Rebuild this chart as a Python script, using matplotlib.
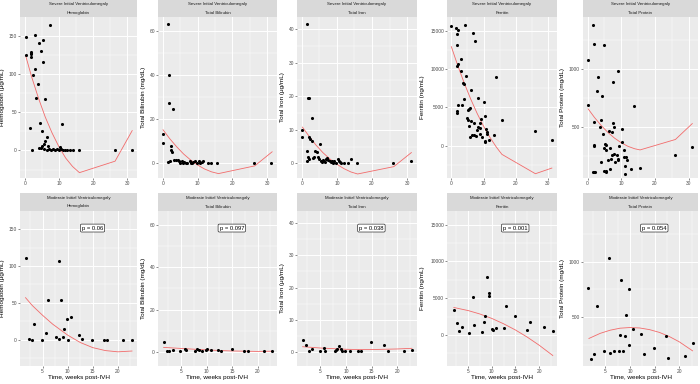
import matplotlib
matplotlib.use("Agg")
import matplotlib.pyplot as plt

plt.rcParams['font.family'] = ['Liberation Sans', 'DejaVu Sans']

# ---- data: severe initial ventriculomegaly (top row) ----
sev_hgb_t = [7.3, 0.3, 3.1, 5.5, 4.1, 4.8, 1.9, 2.0, 1.9, 1.8, 0.3, 5.5, 3.0, 2.3, 3.9, 3.3, 5.9,
             1.7, 4.6, 5.1, 11.0, 6.4, 6.0, 5.6, 5.1, 2.2, 4.1, 4.8, 6.8, 5.8, 6.5, 7.2, 7.7, 8.4,
             8.9, 9.4, 9.9, 10.4, 10.6, 11.2, 11.7, 12.3, 13.3, 14.1, 15.8, 26.4, 31.4]
sev_hgb = [164, 149, 151, 144, 141, 130, 129, 128, 126, 122, 125, 116, 107, 99, 87, 68, 67,
           30, 36, 26, 34, 17, 13, 9, 6.5, 1, 3.5, 3.5, 5.6, 2, 1, 2, 0.5, 2.5,
           1, 2.5, 0.5, 5, 2, 0.5, 0.5, 0.5, 0.5, 0.5, 0.5, 0, 0]

sev_bili_t = [1.6, 1.8, 1.9, 2.9, 0.1, 0.0, 2.3, 2.3, 2.8, 1.6, 2.0, 3.1, 3.8, 4.4, 4.8, 5.0,
              5.4, 5.8, 6.2, 6.6, 6.9, 7.7, 8.1, 8.5, 8.8, 9.2, 9.8, 10.4, 10.7, 11.3, 11.7,
              13.1, 14.0, 15.7, 26.1, 31.1]
sev_bili = [63.2, 40, 27.3, 24.5, 13.2, 9.4, 8, 6, 4.9, 0.5, 0.9, 1.5, 1.5, 1.5, 0.8, 0.3,
            0.8, 0.3, 0.6, 0.3, 0.0, 0.9, 0.3, 0.0, 0.6, 0.9, 0.0, 0.9, 0.0, 0.6, 0.9,
            0.0, 0.0, 0.0, 0.0, 0.3]

sev_iron_t = [1.6, 1.9, 2.1, 2.8, 0.0, 0.2, 2.2, 2.4, 2.8, 5.2, 1.6, 1.9, 2.0, 1.6, 3.9, 4.3,
              3.1, 3.5, 4.7, 5.0, 5.4, 5.7, 6.0, 6.4, 6.6, 6.9, 7.1, 7.5, 7.9, 8.2, 8.5, 8.8,
              9.3, 9.8, 10.2, 10.5, 10.9, 11.3, 11.9, 13.1, 14.0, 15.7, 26.1, 31.1]
sev_iron = [41.5, 19.6, 19.6, 13.5, 7.9, 9.9, 8.0, 7.4, 6.7, 5.8, 3.6, 1.9, 1.4, 0.6, 3.6, 3.3,
            1.6, 2.0, 1.8, 1.2, 0.8, 0.4, 1.0, 0.7, 0.4, 1.2, 1.7, 1.0, 0.8, 0.4, 0.6, 0.2,
            0.6, 0.2, 1.2, 0.8, 0.4, 0.2, 0.0, 0.1, 1.4, 0.2, 0.0, 0.6]

sev_ferr_t = [0.0, 4.3, 1.5, 2.1, 1.7, 6.7, 1.7, 7.2, 2.9, 2.1, 1.7, 3.0, 4.6, 14.0, 3.7, 3.9,
              6.2, 3.8, 8.2, 10.2, 2.0, 3.3, 5.9, 5.5, 5.2, 1.7, 1.7, 10.5, 9.2, 4.9, 5.2,
              15.7, 6.1, 7.1, 9.0, 5.6, 8.4, 9.0, 8.0, 10.9, 11.1, 8.8, 7.1, 6.5, 7.7, 11.2,
              5.8, 9.4, 13.2, 11.7, 10.5, 10.3, 26.1, 31.2]
sev_ferr = [15700, 15830, 15400, 15090, 14560, 14690, 13170, 13690, 11290, 10680, 10420, 9810,
            9160, 8980, 8240, 8110, 7280, 6150, 6280, 5670, 5280, 5280, 4970, 4840, 4670, 4540,
            4230, 3920, 3530, 3620, 3360, 3310, 3180, 2920, 3010, 2570, 2440, 2350, 2050, 2140,
            1790, 1570, 1400, 1400, 1310, 1530, 1090, 1090, 1350, 740, 520, 650, 1870, 700]

sev_prot_t = [1.6, 1.8, 4.8, 0.0, 9.1, 3.2, 7.7, 2.9, 4.4, 0.2, 13.9, 3.9, 1.9, 7.5, 3.8, 8.0,
              10.3, 4.6, 6.4, 7.3, 10.2, 5.3, 5.6, 2.0, 1.9, 9.3, 6.7, 5.0, 10.7, 5.4, 7.8, 7.2,
              10.9, 11.3, 8.7, 8.9, 7.0, 6.0, 11.7, 8.1, 9.1, 3.9, 11.2, 26.0, 31.1, 15.6, 13.0,
              6.6, 5.0, 5.4, 5.6, 1.6, 1.9, 2.2, 11.1]
sev_prot = [1385, 1218, 1210, 1078, 989, 931, 888, 810, 773, 690, 681, 560, 543, 534, 503, 503,
            489, 440, 468, 460, 371, 353, 345, 345, 336, 342, 319, 319, 302, 302, 273, 259,
            247, 247, 261, 227, 224, 218, 215, 204, 215, 201, 170, 259, 328, 152, 141,
            144, 126, 121, 115, 112, 112, 118, 100]

# fitted lines
sev_hgb_fit_t = [0.3, 2, 4, 6, 8, 10, 12, 14, 16, 26.4, 31.4]
sev_hgb_fit = [124, 97, 69, 44, 23, 5, -10, -21, -29, -14, 26]
sev_bili_fit_t = [0.1, 2, 4, 6, 8, 10, 12, 14, 16, 26.4, 31.4]
sev_bili_fit = [15.2, 11.2, 7.5, 4.2, 1.5, -0.8, -2.6, -3.9, -4.7, -1.2, 5.2]
sev_iron_fit_t = [0.2, 2, 4, 6, 8, 10, 12, 14, 15.9, 26.2, 31.2]
sev_iron_fit = [10.8, 8.2, 5.5, 3.2, 1.3, -0.3, -1.6, -2.6, -3.2, -1.0, 3.2]
sev_ferr_fit_t = [0, 2, 4, 6, 8, 10, 12, 14, 15.7, 26.1, 31.2]
sev_ferr_fit = [12950, 10470, 8190, 6110, 4230, 2560, 1080, -200, -1130, -3660, -2920]
sev_prot_fit_t = [0.2, 2, 4, 6, 8, 10, 12, 14, 15.6, 26.1, 31.1]
sev_prot_fit = [658, 587, 517, 457, 407, 367, 336, 315, 305, 395, 532]

# ---- data: moderate initial ventriculomegaly (bottom row) ----
mod_hgb_t = [1.6, 2.3, 2.8, 3.3, 4.8, 5.6, 6.0, 7.7, 8.2, 8.2, 8.6, 9.1, 9.2, 9.8, 10.0, 10.7,
             12.2, 12.8, 14.9, 17.3, 17.9, 21.1, 22.8]
mod_hgb = [111.6, 0.9, 0, 21, 0, 8.9, 54, 3.6, 106.7, 0.9, 53.6, 3.1, 14.3, 27.7, 0, 31.3,
           6.7, 0.4, 0, 0, 0, 0, 0]

mod_bili_t = [1.6, 2.3, 2.7, 3.4, 4.9, 5.7, 6.0, 7.7, 8.2, 8.6, 9.2, 9.9, 10.1, 10.8, 12.3,
              12.9, 14.9, 17.4, 18.1, 21.2, 22.9]
mod_bili = [4.7, 0.5, 0.5, 0.9, 0.3, 1.4, 0.9, 0.2, 1.3, 0.9, 0.6, 1.1, 1.4, 0.9, 0.8,
            0.2, 1.3, 0.2, 0.2, 0.3, 0.3]

mod_iron_t = [1.6, 2.3, 2.8, 3.4, 4.9, 5.7, 6.0, 7.8, 8.1, 8.3, 8.7, 9.1, 9.3, 9.9, 10.8,
              12.3, 12.9, 14.9, 17.4, 18.1, 21.2, 22.8]
mod_iron = [3.7, 2.0, 0.2, 1.0, 0.4, 1.1, 0.2, 0.4, 0.5, 0.8, 1.8, 1.0, 0.4, 0.3, 0.4,
            0.3, 0.3, 3.2, 2.2, 0.2, 0.2, 0.6]

mod_ferr_t = [1.95, 2.7, 3.1, 3.6, 5.1, 5.95, 6.2, 7.85, 8.3, 8.5, 8.9, 9.3, 9.5, 10.0, 10.2,
              10.9, 12.5, 13.0, 15.0, 17.4, 18.0, 21.1, 22.9]
mod_ferr = [3420, 1670, 590, 1040, 320, 5180, 1350, 410, 1760, 2610, 7840, 5270, 5720, 770, 720,
            990, 900, 3960, 2610, 720, 1800, 1130, 540]

mod_prot_t = [1.6, 3.4, 5.7, 8.2, 9.9, 9.2, 8.0, 9.1, 10.6, 12.2, 17.3, 9.8, 14.9, 12.8, 6.7,
              5.9, 4.7, 2.8, 2.2, 8.7, 7.7, 17.8, 21.1, 22.7]
mod_prot = [759, 598, 1033, 833, 750, 521, 339, 330, 396, 348, 330, 253, 220, 173, 199,
            182, 199, 173, 125, 202, 202, 131, 149, 265]

mod_hgb_fit_t = [1.6, 3, 5, 7, 10, 12.5, 15, 17.5, 20, 22.8]
mod_hgb_fit = [57, 46, 33, 21, 6, -4, -11, -15, -16.7, -15.6]
mod_bili_fit_t = [1.6, 5, 10, 15, 20, 22.9]
mod_bili_fit = [2.1, 1.6, 0.9, 0.4, 0.2, 0.3]
mod_iron_fit_t = [1.6, 5, 10, 13, 16, 20, 22.8]
mod_iron_fit = [1.6, 1.2, 0.8, 0.7, 0.75, 0.9, 1.1]
mod_ferr_fit_t = [1.95, 5, 7.5, 10, 12.5, 15, 17.5, 20, 22.9]
mod_ferr_fit = [3740, 3320, 2850, 2250, 1520, 680, -290, -1380, -2790]
mod_prot_fit_t = [1.7, 4, 6, 8, 10, 12, 14, 16, 18, 20, 22.7]
mod_prot_fit = [310, 356, 384, 402, 408, 404, 389, 364, 327, 280, 199]

markers = ["Hemoglobin", "Total Bilirubin", "Total Iron", "Ferritin", "Total Protein"]
y_titles = ["Hemoglobin (\u03bcg/mL)", "Total Bilirubin (mg/dL)", "Total Iron (\u03bcg/mL)",
            "Ferritin (ng/mL)", "Total Protein (mg/dL)"]
p_values = ["p = 0.06", "p = 0.097", "p = 0.038", "p = 0.001", "p = 0.054"]

severe = [(sev_hgb_t, sev_hgb, sev_hgb_fit_t, sev_hgb_fit),
          (sev_bili_t, sev_bili, sev_bili_fit_t, sev_bili_fit),
          (sev_iron_t, sev_iron, sev_iron_fit_t, sev_iron_fit),
          (sev_ferr_t, sev_ferr, sev_ferr_fit_t, sev_ferr_fit),
          (sev_prot_t, sev_prot, sev_prot_fit_t, sev_prot_fit)]
moderate = [(mod_hgb_t, mod_hgb, mod_hgb_fit_t, mod_hgb_fit),
            (mod_bili_t, mod_bili, mod_bili_fit_t, mod_bili_fit),
            (mod_iron_t, mod_iron, mod_iron_fit_t, mod_iron_fit),
            (mod_ferr_t, mod_ferr, mod_ferr_fit_t, mod_ferr_fit),
            (mod_prot_t, mod_prot, mod_prot_fit_t, mod_prot_fit)]

# ---- layout (pixels) ----
W, H = 700, 384
cols_px = [(20, 137), (158, 277), (297, 417), (447, 557), (583, 698)]
ylab_px = [5, 145.7, 285, 425, 565]
ylims = [(-36, 175), (-6.7, 66.6), (-4.4, 43.8), (-4220, 16870), (63, 1453)]
yticks = [[0, 50, 100, 150], [0, 20, 40, 60], [0, 10, 20, 30, 40], [0, 5000, 10000, 15000], [500, 1000]]
yminor = [[-25, 25, 75, 125], [10, 30, 50], [5, 15, 25, 35], [-2500, 2500, 7500, 12500], [250, 750, 1250]]
rows = [
    dict(strip=(0, 16.7), panel=(16.7, 178), xlim=(-1.35, 32.8), xt=[0, 10, 20, 30],
         xminor=[5, 15, 25], title="Severe Initial Ventriculomegaly", data=severe),
    dict(strip=(193, 211), panel=(211, 366), xlim=(0.5, 23.8), xt=[5, 10, 15, 20],
         xminor=[2.5, 7.5, 12.5, 17.5, 22.5], title="Moderate Initial Ventriculomegaly", data=moderate),
]


def rect(l, t, r, b):
    return [l / W, 1 - b / H, (r - l) / W, (b - t) / H]


fig = plt.figure(figsize=(7, 3.84), dpi=100)

for ri, row in enumerate(rows):
    for ci, (l, r) in enumerate(cols_px):
        pt, pb = row["panel"]
        ax = fig.add_axes(rect(l, pt, r, pb))
        ax.set_facecolor("#EBEBEB")
        for s in ax.spines.values():
            s.set_visible(False)
        ax.set_xlim(*row["xlim"])
        ax.set_ylim(*ylims[ci])
        ax.set_xticks(row["xt"])
        ax.set_yticks(yticks[ci])
        ax.set_xticks(row["xminor"], minor=True)
        ax.set_yticks(yminor[ci], minor=True)
        ax.grid(which="major", color="white", lw=0.7)
        ax.grid(which="minor", color="white", lw=0.35)
        ax.set_axisbelow(True)
        ax.tick_params(which="major", length=1.2, width=0.4, color="#333333", pad=1,
                       labelsize=3.5, labelcolor="#4D4D4D")
        ax.tick_params(which="minor", length=0)

        t, y, ft, fy = row["data"][ci]
        ax.plot(ft, fy, color="#F26B6B", lw=0.6, zorder=2)
        ax.scatter(t, y, s=5, color="black", linewidths=0, zorder=3)

        ax.set_ylabel(y_titles[ci], fontsize=4.6, labelpad=0)
        ax.yaxis.set_label_coords((ylab_px[ci] - l) / (r - l), 0.5)
        if ri == 1:
            ax.set_xlabel("Time, weeks post-IVH", fontsize=4.6, labelpad=0.5)
            x0, x1 = row["xlim"]
            y0, y1 = ylims[ci]
            ax.text(x0 + 0.62 * (x1 - x0), y0 + 0.89 * (y1 - y0), p_values[ci],
                    fontsize=4.2, ha="center", va="center", zorder=4,
                    bbox=dict(boxstyle="round,pad=0.25,rounding_size=0.2", fc="white",
                              ec="black", lw=0.4))

        # two stacked strips
        st, sb = row["strip"]
        mid = (st + sb) / 2
        for (a, b_), label in [((st, mid), row["title"]), ((mid, sb), markers[ci])]:
            sax = fig.add_axes(rect(l, a, r, b_))
            sax.set_facecolor("#D9D9D9")
            sax.set_xticks([])
            sax.set_yticks([])
            for s in sax.spines.values():
                s.set_visible(False)
            sax.text(0.5, 0.5, label, fontsize=3.2, color="#1A1A1A",
                     ha="center", va="center", transform=sax.transAxes)

fig.savefig("out.png", dpi=100)
